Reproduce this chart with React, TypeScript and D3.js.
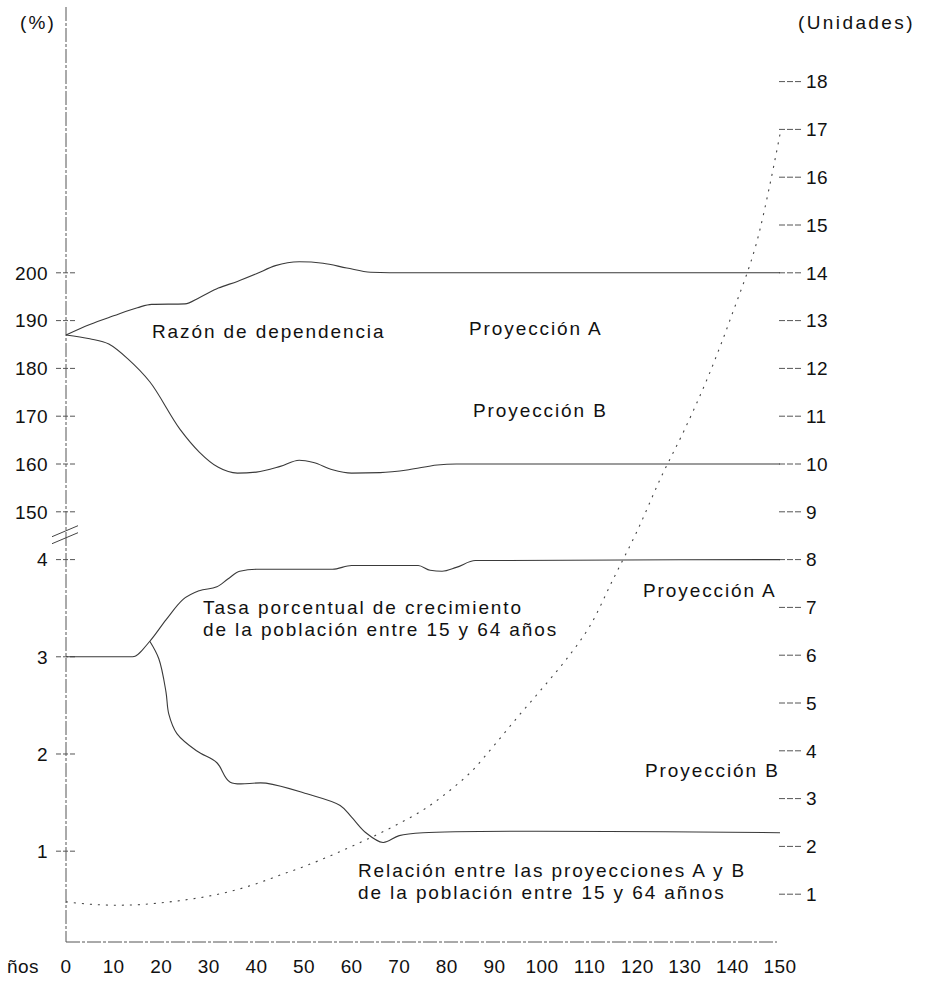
import React from "react";
import * as d3 from "d3";

// ---------- data ----------
const yearTicks = [0, 10, 20, 30, 40, 50, 60, 70, 80, 90, 100, 110, 120, 130, 140, 150];
const pctTicks = [150, 160, 170, 180, 190, 200];
const rateTicks = [1, 2, 3, 4];
const unitTicks = [1, 2, 3, 4, 5, 6, 7, 8, 9, 10, 11, 12, 13, 14, 15, 16, 17, 18];

// Razón de dependencia (%)
const razonYearsA = [0, 5, 10, 15, 18, 25, 28, 32, 36, 40, 44, 49, 54, 59, 64, 68, 150];
const razonA = [187, 189.2, 191.0, 192.7, 193.4, 193.5, 194.8, 196.8, 198.2, 199.8, 201.5, 202.3, 202.0, 201.0, 200.1, 200, 200];
const razonYearsB = [0, 5, 9, 13, 17.6, 24, 28, 32, 36, 40, 45, 49, 52, 56, 60, 66, 72, 78, 82, 150];
const razonB = [187, 186.2, 185.1, 182.0, 177.2, 167.2, 162.5, 159.3, 158.1, 158.3, 159.5, 160.8, 160.3, 158.8, 158.1, 158.2, 158.8, 159.8, 160, 160];

// Tasa porcentual de crecimiento de la población entre 15 y 64 años (%)
const tasaYearsA = [0, 14, 17.6, 21, 24.6, 28, 31.7, 34, 36.5, 40, 56, 60, 74, 76.5, 79, 82, 86, 150];
const tasaA = [3.0, 3.0, 3.16, 3.38, 3.59, 3.68, 3.72, 3.8, 3.88, 3.9, 3.9, 3.94, 3.94, 3.89, 3.88, 3.92, 3.99, 4.0];
const tasaYearsB = [17.6, 19.5, 21, 21.6, 23.3, 27.5, 31.7, 34.5, 42, 50.6, 57.6, 60, 63, 66.6, 70, 75, 150];
const tasaB = [3.16, 2.98, 2.64, 2.41, 2.21, 2.03, 1.91, 1.71, 1.7, 1.59, 1.47, 1.35, 1.19, 1.09, 1.16, 1.19, 1.19];

// Relación entre las proyecciones A y B (unidades)
const relYears = [0, 5, 10, 15, 20, 25, 30, 35, 40, 45, 50, 55, 60, 65, 70, 75, 80, 85, 90, 95, 100, 105, 110, 115, 120, 125, 130, 135, 140, 145, 150];
const relacion = [0.84, 0.79, 0.77, 0.78, 0.82, 0.88, 0.96, 1.07, 1.22, 1.4, 1.58, 1.78, 2.0, 2.23, 2.48, 2.76, 3.12, 3.55, 4.12, 4.72, 5.3, 5.9, 6.6, 7.6, 8.6, 9.72, 10.73, 11.85, 13.15, 14.6, 16.9];

const W = 929;
const H = 985;
const FONT = "'Liberation Sans', Arial, Helvetica, sans-serif";

export default function App() {
  const x = d3.scaleLinear().domain([0, 150]).range([66, 780]);
  const yU = d3.scaleLinear().domain([0, 18]).range([942, 81.6]);
  const yP = d3.scaleLinear().domain([150, 200]).range([yU(9), yU(14)]);
  const yR = d3.scaleLinear().domain([1, 4]).range([yU(1.9), yU(8)]);

  const mk = (xs: number[], ys: number[], ys2: (v: number) => number, curve: d3.CurveFactory) =>
    d3
      .line<number>()
      .x((_, i) => x(xs[i]))
      .y((d) => ys2(d))
      .curve(curve)(ys) || "";

  const pRazA = mk(razonYearsA, razonA, yP, d3.curveMonotoneX);
  const pRazB = mk(razonYearsB, razonB, yP, d3.curveMonotoneX);
  const pTasA = mk(tasaYearsA, tasaA, yR, d3.curveMonotoneX);
  const pTasB = mk(tasaYearsB, tasaB, yR, d3.curveCatmullRom.alpha(0.5));
  const pRel = mk(relYears, relacion, yU, d3.curveCatmullRom.alpha(0.5));

  const axisX0 = x(0);
  const axisY0 = yU(0);
  const yBreak = yU(8.5);

  const lineStyle = { fill: "none", stroke: "#3a3a3a", strokeWidth: 1.1 };
  const labelStyle: React.CSSProperties = { fontFamily: FONT, fontSize: 19, letterSpacing: 1.9, fill: "#111" };
  const tickStyle: React.CSSProperties = { fontFamily: FONT, fontSize: 19, letterSpacing: 0.4, fill: "#111" };

  return (
    <svg
      width={W}
      height={H}
      viewBox={`0 0 ${W} ${H}`}
      style={{ position: "absolute", left: 0, top: 0, background: "#fff" }}
    >
      <rect x={0} y={0} width={W} height={H} fill="#fff" />

      {/* axes */}
      <line x1={axisX0} y1={7} x2={axisX0} y2={axisY0} stroke="#555" strokeWidth={1} strokeDasharray="14,2,3,2" />
      <line x1={axisX0} y1={axisY0} x2={777} y2={axisY0} stroke="#555" strokeWidth={1} strokeDasharray="14,2,3,2" />

      {/* axis break */}
      <line x1={52} y1={yBreak + 1} x2={78} y2={yBreak - 10} stroke="#444" strokeWidth={1} />
      <line x1={52} y1={yBreak + 8} x2={78} y2={yBreak - 3} stroke="#444" strokeWidth={1} />

      {/* left ticks: percent */}
      {pctTicks.map((t) => (
        <g key={"p" + t}>
          <line x1={56} x2={77} y1={yP(t)} y2={yP(t)} stroke="#555" strokeWidth={1} strokeDasharray="5,2" />
          <text x={48} y={yP(t)} dy="0.36em" textAnchor="end" style={tickStyle}>{t}</text>
        </g>
      ))}
      {/* left ticks: rate */}
      {rateTicks.map((t) => (
        <g key={"r" + t}>
          <line x1={56} x2={77} y1={yR(t)} y2={yR(t)} stroke="#555" strokeWidth={1} strokeDasharray="5,2" />
          <text x={48} y={yR(t)} dy="0.36em" textAnchor="end" style={tickStyle}>{t}</text>
        </g>
      ))}
      {/* right ticks: units */}
      {unitTicks.map((t) => (
        <g key={"u" + t}>
          <line x1={779} x2={803} y1={yU(t)} y2={yU(t)} stroke="#555" strokeWidth={1} strokeDasharray="6,2" />
          <text x={806} y={yU(t)} dy="0.36em" textAnchor="start" style={tickStyle}>{t}</text>
        </g>
      ))}
      {/* bottom labels */}
      <text x={7} y={973} style={tickStyle}>ños</text>
      {yearTicks.map((t) => (
        <text key={"x" + t} x={x(t)} y={973} textAnchor="middle" style={tickStyle}>{t}</text>
      ))}

      {/* units labels */}
      <text x={20} y={29} style={{ ...labelStyle, letterSpacing: 2.2 }}>(%)</text>
      <text x={798} y={29} style={{ ...labelStyle, letterSpacing: 2.4 }}>(Unidades)</text>

      {/* series */}
      <path d={pRazA} {...lineStyle} />
      <path d={pRazB} {...lineStyle} />
      <path d={pTasA} {...lineStyle} />
      <path d={pTasB} {...lineStyle} />
      <path d={pRel} fill="none" stroke="#444" strokeWidth={1.1} strokeDasharray="2,6" />

      {/* annotations */}
      <text x={152} y={338} style={labelStyle}>Razón de dependencia</text>
      <text x={469} y={335} style={labelStyle}>Proyección A</text>
      <text x={473} y={417} style={labelStyle}>Proyección B</text>
      <text x={203} y={614} style={labelStyle}>Tasa porcentual de crecimiento</text>
      <text x={203} y={636} style={labelStyle}>de la población entre 15 y 64 años</text>
      <text x={643} y={597} style={labelStyle}>Proyección A</text>
      <text x={645} y={777} style={labelStyle}>Proyección B</text>
      <text x={358} y={877} style={labelStyle}>Relación entre las proyecciones A y B</text>
      <text x={358} y={899} style={labelStyle}>de la población entre 15 y 64 añnos</text>
    </svg>
  );
}
